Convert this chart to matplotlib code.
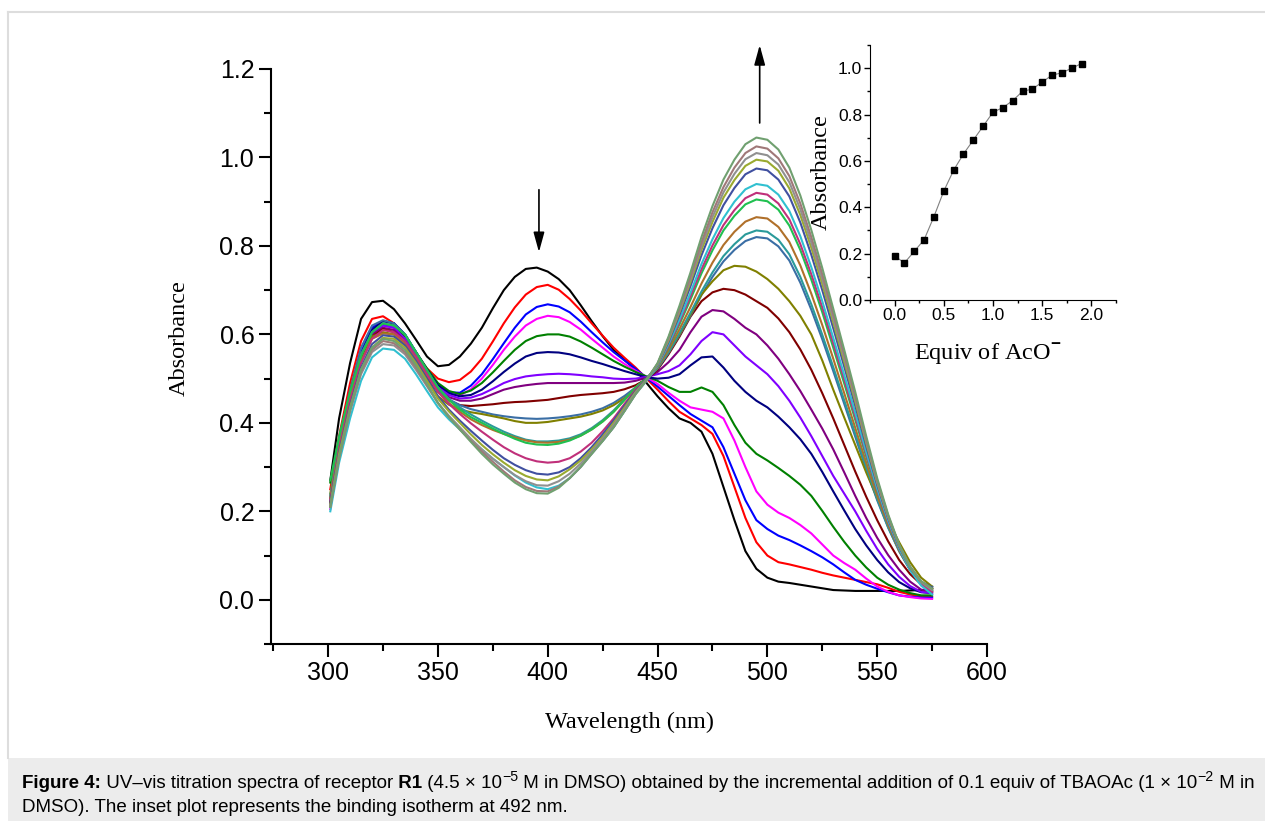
import matplotlib
matplotlib.use('Agg')
import matplotlib.pyplot as plt
from matplotlib.ticker import MultipleLocator
from matplotlib.patches import Rectangle
from matplotlib.lines import Line2D
from matplotlib.text import Annotation

plt.rcParams['font.family'] = 'Liberation Sans'
plt.rcParams['mathtext.fontset'] = 'custom'
plt.rcParams['mathtext.rm'] = 'Liberation Sans'
plt.rcParams['mathtext.bf'] = 'Liberation Sans:bold'

# wavelength grid (nm) and spectra, 0 -> 2.0 equiv AcO-
wavelength = [301, 305, 310, 315, 320, 325, 330, 335, 340, 345, 350, 355, 360, 365,
              370, 375, 380, 385, 390, 395, 400, 405, 410, 415, 420, 425, 430, 435,
              440, 445, 450, 455, 460, 465, 470, 475, 480, 485, 490, 495, 500, 505,
              510, 515, 520, 525, 530, 535, 540, 545, 550, 555, 560, 565, 570, 575]

abs_00 = [0.27, 0.41, 0.535, 0.635, 0.673, 0.676, 0.657, 0.625, 0.588, 0.55, 0.528, 0.531, 0.55, 0.579,
          0.615, 0.659, 0.70, 0.73, 0.748, 0.751, 0.742, 0.725, 0.70, 0.666, 0.63, 0.596, 0.565, 0.542,
          0.52, 0.49, 0.46, 0.433, 0.41, 0.40, 0.38, 0.33, 0.255, 0.18, 0.11, 0.07, 0.05, 0.041,
          0.038, 0.034, 0.03, 0.026, 0.022, 0.021, 0.02, 0.02, 0.02, 0.02, 0.02, 0.021, 0.022, 0.022]
abs_01 = [0.25, 0.37, 0.49, 0.585, 0.635, 0.641, 0.625, 0.595, 0.555, 0.523, 0.50, 0.492, 0.497, 0.516,
          0.545, 0.584, 0.625, 0.661, 0.69, 0.707, 0.712, 0.701, 0.68, 0.654, 0.625, 0.597, 0.57, 0.547,
          0.525, 0.50, 0.475, 0.449, 0.425, 0.41, 0.395, 0.375, 0.325, 0.255, 0.185, 0.13, 0.10, 0.085,
          0.08, 0.074, 0.068, 0.061, 0.055, 0.05, 0.045, 0.04, 0.035, 0.027, 0.018, 0.012, 0.008, 0.006]
abs_02 = [0.22, 0.34, 0.46, 0.56, 0.615, 0.63, 0.625, 0.60, 0.56, 0.52, 0.485, 0.469, 0.468, 0.484,
          0.51, 0.544, 0.58, 0.615, 0.645, 0.662, 0.668, 0.663, 0.65, 0.629, 0.605, 0.582, 0.56, 0.541,
          0.522, 0.502, 0.482, 0.461, 0.44, 0.42, 0.405, 0.39, 0.345, 0.285, 0.225, 0.18, 0.16, 0.145,
          0.135, 0.123, 0.11, 0.096, 0.08, 0.062, 0.045, 0.034, 0.025, 0.017, 0.01, 0.007, 0.005, 0.005]
abs_03 = [0.205, 0.33, 0.45, 0.55, 0.605, 0.62, 0.615, 0.59, 0.55, 0.512, 0.48, 0.464, 0.462, 0.476,
          0.50, 0.531, 0.565, 0.595, 0.62, 0.635, 0.642, 0.639, 0.628, 0.611, 0.59, 0.57, 0.55, 0.533,
          0.518, 0.503, 0.488, 0.468, 0.45, 0.435, 0.43, 0.425, 0.41, 0.36, 0.30, 0.245, 0.215, 0.197,
          0.185, 0.169, 0.15, 0.125, 0.10, 0.083, 0.068, 0.048, 0.03, 0.018, 0.01, 0.006, 0.003, 0.002]
abs_04 = [0.265, 0.36, 0.47, 0.555, 0.605, 0.622, 0.62, 0.595, 0.56, 0.523, 0.49, 0.472, 0.465, 0.473,
          0.49, 0.514, 0.54, 0.565, 0.585, 0.596, 0.60, 0.60, 0.595, 0.584, 0.57, 0.555, 0.54, 0.527,
          0.515, 0.505, 0.495, 0.481, 0.47, 0.47, 0.48, 0.47, 0.44, 0.395, 0.355, 0.33, 0.315, 0.298,
          0.28, 0.26, 0.235, 0.201, 0.165, 0.131, 0.10, 0.073, 0.05, 0.034, 0.023, 0.015, 0.01, 0.01]
abs_05 = [0.23, 0.35, 0.465, 0.555, 0.61, 0.63, 0.625, 0.60, 0.56, 0.52, 0.485, 0.467, 0.46, 0.463,
          0.475, 0.494, 0.515, 0.534, 0.55, 0.558, 0.56, 0.559, 0.555, 0.548, 0.54, 0.533, 0.525, 0.517,
          0.51, 0.503, 0.50, 0.502, 0.51, 0.53, 0.548, 0.55, 0.525, 0.495, 0.47, 0.45, 0.435, 0.414,
          0.39, 0.363, 0.33, 0.289, 0.245, 0.202, 0.16, 0.123, 0.09, 0.062, 0.04, 0.026, 0.017, 0.015]
abs_06 = [0.21, 0.33, 0.45, 0.545, 0.60, 0.62, 0.615, 0.59, 0.55, 0.513, 0.48, 0.463, 0.455, 0.457,
          0.465, 0.477, 0.49, 0.499, 0.505, 0.508, 0.51, 0.511, 0.51, 0.508, 0.505, 0.503, 0.50, 0.499,
          0.50, 0.504, 0.51, 0.517, 0.53, 0.555, 0.585, 0.605, 0.60, 0.575, 0.55, 0.53, 0.51, 0.483,
          0.45, 0.412, 0.37, 0.325, 0.28, 0.24, 0.20, 0.156, 0.115, 0.08, 0.052, 0.031, 0.018, 0.015]
abs_07 = [0.22, 0.34, 0.455, 0.545, 0.60, 0.615, 0.61, 0.585, 0.545, 0.508, 0.475, 0.458, 0.45, 0.45,
          0.455, 0.465, 0.475, 0.481, 0.485, 0.488, 0.49, 0.49, 0.49, 0.49, 0.49, 0.49, 0.49, 0.491,
          0.495, 0.502, 0.515, 0.537, 0.565, 0.605, 0.64, 0.655, 0.652, 0.635, 0.615, 0.60, 0.575, 0.545,
          0.51, 0.472, 0.43, 0.387, 0.34, 0.288, 0.235, 0.185, 0.14, 0.101, 0.068, 0.041, 0.023, 0.018]
abs_08 = [0.22, 0.34, 0.455, 0.545, 0.595, 0.612, 0.605, 0.58, 0.54, 0.503, 0.47, 0.451, 0.44, 0.438,
          0.44, 0.442, 0.445, 0.447, 0.448, 0.45, 0.452, 0.456, 0.46, 0.463, 0.465, 0.467, 0.47, 0.476,
          0.485, 0.499, 0.52, 0.555, 0.595, 0.64, 0.675, 0.695, 0.703, 0.70, 0.69, 0.675, 0.66, 0.636,
          0.605, 0.566, 0.52, 0.467, 0.41, 0.35, 0.29, 0.233, 0.18, 0.132, 0.09, 0.058, 0.035, 0.025]
abs_09 = [0.23, 0.36, 0.475, 0.57, 0.62, 0.632, 0.625, 0.60, 0.555, 0.513, 0.475, 0.453, 0.44, 0.431,
          0.425, 0.419, 0.415, 0.412, 0.41, 0.409, 0.41, 0.412, 0.415, 0.419, 0.425, 0.433, 0.445, 0.461,
          0.48, 0.499, 0.523, 0.558, 0.598, 0.642, 0.689, 0.73, 0.765, 0.791, 0.811, 0.82, 0.817, 0.799,
          0.767, 0.717, 0.656, 0.589, 0.517, 0.443, 0.369, 0.295, 0.225, 0.163, 0.11, 0.068, 0.04, 0.03]
abs_10 = [0.24, 0.36, 0.47, 0.555, 0.595, 0.605, 0.60, 0.575, 0.535, 0.495, 0.46, 0.441, 0.43, 0.424,
          0.42, 0.415, 0.41, 0.404, 0.40, 0.40, 0.402, 0.406, 0.41, 0.414, 0.42, 0.428, 0.44, 0.456,
          0.475, 0.498, 0.525, 0.56, 0.60, 0.645, 0.69, 0.72, 0.745, 0.755, 0.753, 0.742, 0.725, 0.703,
          0.675, 0.642, 0.60, 0.541, 0.475, 0.412, 0.35, 0.288, 0.23, 0.178, 0.13, 0.085, 0.05, 0.03]
abs_11 = [0.235, 0.355, 0.465, 0.555, 0.605, 0.625, 0.62, 0.60, 0.56, 0.519, 0.48, 0.454, 0.435, 0.419,
          0.405, 0.392, 0.38, 0.37, 0.362, 0.358, 0.358, 0.36, 0.365, 0.374, 0.388, 0.406, 0.428, 0.454,
          0.48, 0.50, 0.523, 0.56, 0.603, 0.649, 0.697, 0.74, 0.777, 0.804, 0.826, 0.835, 0.832, 0.814,
          0.781, 0.73, 0.668, 0.599, 0.526, 0.451, 0.376, 0.30, 0.228, 0.164, 0.11, 0.067, 0.038, 0.028]
abs_12 = [0.23, 0.345, 0.455, 0.54, 0.59, 0.602, 0.60, 0.58, 0.545, 0.507, 0.47, 0.445, 0.425, 0.408,
          0.395, 0.384, 0.375, 0.367, 0.36, 0.356, 0.355, 0.357, 0.362, 0.371, 0.385, 0.403, 0.425, 0.452,
          0.48, 0.50, 0.525, 0.565, 0.612, 0.662, 0.715, 0.762, 0.802, 0.832, 0.855, 0.865, 0.862, 0.843,
          0.809, 0.756, 0.692, 0.621, 0.545, 0.467, 0.389, 0.31, 0.235, 0.169, 0.112, 0.068, 0.038, 0.025]
abs_13 = [0.27, 0.37, 0.47, 0.55, 0.605, 0.625, 0.62, 0.60, 0.56, 0.519, 0.48, 0.452, 0.43, 0.413,
          0.40, 0.387, 0.375, 0.364, 0.355, 0.351, 0.35, 0.353, 0.36, 0.371, 0.385, 0.403, 0.425, 0.452,
          0.48, 0.501, 0.527, 0.571, 0.623, 0.679, 0.738, 0.79, 0.835, 0.868, 0.894, 0.905, 0.901, 0.882,
          0.846, 0.791, 0.724, 0.65, 0.57, 0.489, 0.407, 0.324, 0.245, 0.175, 0.115, 0.07, 0.038, 0.02]
abs_14 = [0.225, 0.34, 0.45, 0.535, 0.59, 0.61, 0.605, 0.585, 0.55, 0.51, 0.47, 0.443, 0.42, 0.399,
          0.38, 0.362, 0.345, 0.331, 0.32, 0.313, 0.31, 0.312, 0.32, 0.335, 0.355, 0.381, 0.41, 0.443,
          0.475, 0.499, 0.528, 0.574, 0.628, 0.686, 0.747, 0.801, 0.847, 0.881, 0.908, 0.92, 0.916, 0.896,
          0.86, 0.804, 0.736, 0.661, 0.58, 0.498, 0.414, 0.329, 0.248, 0.176, 0.115, 0.068, 0.035, 0.018]
abs_15 = [0.20, 0.31, 0.41, 0.495, 0.548, 0.568, 0.565, 0.545, 0.51, 0.472, 0.435, 0.408, 0.385, 0.362,
          0.34, 0.319, 0.30, 0.281, 0.265, 0.254, 0.25, 0.258, 0.275, 0.30, 0.33, 0.359, 0.39, 0.427,
          0.465, 0.495, 0.529, 0.578, 0.634, 0.694, 0.759, 0.815, 0.863, 0.90, 0.928, 0.94, 0.936, 0.916,
          0.879, 0.822, 0.752, 0.675, 0.592, 0.508, 0.423, 0.335, 0.252, 0.179, 0.116, 0.067, 0.032, 0.012]
abs_16 = [0.22, 0.335, 0.44, 0.525, 0.578, 0.598, 0.595, 0.575, 0.54, 0.50, 0.46, 0.43, 0.405, 0.382,
          0.36, 0.339, 0.32, 0.305, 0.293, 0.285, 0.283, 0.288, 0.30, 0.32, 0.345, 0.374, 0.405, 0.439,
          0.472, 0.499, 0.531, 0.583, 0.644, 0.709, 0.779, 0.84, 0.892, 0.931, 0.962, 0.975, 0.971, 0.95,
          0.912, 0.853, 0.78, 0.70, 0.614, 0.527, 0.439, 0.347, 0.26, 0.184, 0.12, 0.072, 0.04, 0.028]
abs_17 = [0.215, 0.33, 0.435, 0.52, 0.57, 0.592, 0.59, 0.57, 0.535, 0.495, 0.455, 0.426, 0.40, 0.374,
          0.35, 0.329, 0.31, 0.293, 0.28, 0.272, 0.27, 0.279, 0.295, 0.315, 0.34, 0.368, 0.40, 0.435,
          0.47, 0.498, 0.532, 0.586, 0.65, 0.718, 0.791, 0.854, 0.909, 0.949, 0.981, 0.995, 0.991, 0.97,
          0.93, 0.87, 0.796, 0.714, 0.627, 0.538, 0.448, 0.354, 0.264, 0.187, 0.122, 0.073, 0.04, 0.025]
abs_18 = [0.21, 0.32, 0.425, 0.51, 0.56, 0.578, 0.575, 0.555, 0.52, 0.483, 0.445, 0.416, 0.39, 0.364,
          0.34, 0.319, 0.30, 0.282, 0.268, 0.259, 0.258, 0.268, 0.285, 0.308, 0.335, 0.364, 0.395, 0.431,
          0.468, 0.498, 0.533, 0.589, 0.654, 0.725, 0.799, 0.865, 0.921, 0.963, 0.996, 1.01, 1.005, 0.984,
          0.944, 0.883, 0.808, 0.725, 0.636, 0.547, 0.455, 0.359, 0.267, 0.188, 0.123, 0.074, 0.04, 0.022]
abs_19 = [0.21, 0.32, 0.43, 0.515, 0.565, 0.585, 0.58, 0.56, 0.525, 0.485, 0.445, 0.413, 0.385, 0.359,
          0.335, 0.312, 0.29, 0.27, 0.255, 0.246, 0.245, 0.256, 0.275, 0.30, 0.33, 0.359, 0.39, 0.427,
          0.465, 0.496, 0.534, 0.592, 0.659, 0.731, 0.808, 0.876, 0.933, 0.977, 1.01, 1.025, 1.02, 0.998,
          0.958, 0.896, 0.82, 0.736, 0.646, 0.555, 0.461, 0.363, 0.27, 0.19, 0.124, 0.075, 0.042, 0.025]
abs_20 = [0.21, 0.32, 0.43, 0.52, 0.57, 0.59, 0.585, 0.565, 0.53, 0.488, 0.445, 0.413, 0.385, 0.357,
          0.33, 0.306, 0.285, 0.265, 0.25, 0.241, 0.24, 0.253, 0.275, 0.301, 0.33, 0.359, 0.39, 0.427,
          0.465, 0.497, 0.535, 0.595, 0.665, 0.74, 0.82, 0.89, 0.95, 0.995, 1.03, 1.045, 1.04, 1.018,
          0.977, 0.914, 0.836, 0.75, 0.658, 0.565, 0.47, 0.37, 0.275, 0.193, 0.125, 0.075, 0.042, 0.025]

spectra = [abs_00, abs_01, abs_02, abs_03, abs_04, abs_05, abs_06, abs_07, abs_08, abs_09, abs_10,
           abs_11, abs_12, abs_13, abs_14, abs_15, abs_16, abs_17, abs_18, abs_19, abs_20]
colors = ['#000000', '#ff0000', '#0000ff', '#ff00ff', '#008000', '#000080', '#8000ff',
          '#800080', '#800000', '#3a6ea5', '#808000', '#2a9a9a', '#b0702a', '#20c050',
          '#c0307a', '#30c0d0', '#4050a0', '#9aaa30', '#909090', '#a07878', '#70a070']

# inset: binding isotherm at 492 nm
equiv = [0.0, 0.1, 0.2, 0.3, 0.4, 0.5, 0.6, 0.7, 0.8, 0.9,
         1.0, 1.1, 1.2, 1.3, 1.4, 1.5, 1.6, 1.7, 1.8, 1.9]
abs_492 = [0.19, 0.16, 0.21, 0.26, 0.36, 0.47, 0.56, 0.63, 0.69, 0.75,
           0.81, 0.83, 0.86, 0.90, 0.91, 0.94, 0.97, 0.98, 1.00, 1.02]

# caption runs: (text, style)  b = bold, n = normal, s = superscript
caption_1 = [('Figure 4:', 'b'), (' UV–vis titration spectra of receptor', 'n'), (' R1', 'b'),
             (' (4.5 × 10', 'n'), ('−5', 's'),
             (' M in DMSO) obtained by the incremental addition of 0.1 equiv of TBAOAc (1 × 10', 'n'),
             ('−2', 's'), (' M in', 'n')]
caption_2 = [('DMSO). The inset plot represents the binding isotherm at 492 nm.', 'n')]

W, H = 1265, 821
fig = plt.figure(figsize=(W / 100, H / 100), dpi=100)


def caption_line(runs, y_px, size=13.5):
    first = fig.text(22 / W, 1 - y_px / H, runs[0][0], fontsize=size, va='bottom',
                     fontweight='bold' if runs[0][1] == 'b' else 'normal')
    prev = first
    for s, style in runs[1:]:
        if style == 's':
            t = Annotation(s, xy=(1, 0.45), xycoords=(prev, first), va='bottom',
                           fontsize=size * 0.75)
        else:
            t = Annotation(s, xy=(1, 0), xycoords=(prev, first), va='bottom', fontsize=size,
                           fontweight='bold' if style == 'b' else 'normal')
        fig.add_artist(t)
        prev = t


# page frame and caption box
fig.add_artist(Rectangle((8 / W, 0), 1, 63 / H, transform=fig.transFigure,
                         facecolor='#ececec', edgecolor='none'))
fig.add_artist(Line2D([8 / W, 8 / W], [63 / H, 1 - 12 / H], transform=fig.transFigure,
                      color='#dddddd', lw=1.5))
fig.add_artist(Line2D([8 / W, 1], [1 - 12 / H, 1 - 12 / H], transform=fig.transFigure,
                      color='#dddddd', lw=1.5))
caption_line(caption_1, 792)
caption_line(caption_2, 816)

# main spectra
ax = fig.add_axes([271 / W, 1 - 644 / H, 716 / W, 575 / H])
for spec, col in zip(spectra, colors):
    ax.plot(wavelength, spec, color=col, lw=1.5)

ax.set_xlim(274, 600)
ax.set_ylim(-0.1, 1.2)
ax.spines['top'].set_visible(False)
ax.spines['right'].set_visible(False)
for s in ['left', 'bottom']:
    ax.spines[s].set_linewidth(1.5)
ax.xaxis.set_major_locator(MultipleLocator(50))
ax.xaxis.set_minor_locator(MultipleLocator(25))
ax.yaxis.set_major_locator(MultipleLocator(0.2))
ax.yaxis.set_minor_locator(MultipleLocator(0.1))
ax.tick_params(which='major', direction='out', length=9, width=1.5, labelsize=18, pad=3)
ax.tick_params(which='minor', direction='out', length=5, width=1.5)
ax.set_xlabel('Wavelength (nm)', fontfamily='Liberation Serif', fontsize=17.5)
ax.xaxis.set_label_coords(0.501, -0.118)
ax.set_ylabel('Absorbance', fontfamily='Liberation Serif', fontsize=17.5)
ax.yaxis.set_label_coords(-0.113, 0.532)

arrow = dict(arrowstyle='-|>,head_length=0.8,head_width=0.22', color='black', lw=1.2,
             shrinkA=0, shrinkB=0, mutation_scale=15)
ax.annotate('', xy=(396, 0.786), xytext=(396, 0.927), arrowprops=arrow)
ax.annotate('', xy=(496.5, 1.254), xytext=(496.5, 1.078), arrowprops=arrow,
            annotation_clip=False)

# inset
ax2 = fig.add_axes([870 / W, 1 - 300 / H, 246 / W, 255 / H])
ax2.plot(equiv, abs_492, color='#808080', lw=0.8, marker='s', ms=4,
         mfc='black', mec='black')
ax2.set_xlim(-0.25, 2.25)
ax2.set_ylim(0, 1.1)
ax2.spines['top'].set_visible(False)
ax2.spines['right'].set_visible(False)
ax2.xaxis.set_major_locator(MultipleLocator(0.5))
ax2.xaxis.set_minor_locator(MultipleLocator(0.25))
ax2.yaxis.set_major_locator(MultipleLocator(0.2))
ax2.yaxis.set_minor_locator(MultipleLocator(0.1))
ax2.tick_params(which='major', direction='out', length=4, width=1, labelsize=12.5, pad=1.5)
ax2.tick_params(which='minor', direction='out', length=2.5, width=1)
ax2.set_ylabel('Absorbance', fontfamily='Liberation Serif', fontsize=17.5)
ax2.yaxis.set_label_coords(-0.154, 0.5)
ax2.set_xlabel(r'Equiv of AcO$^{\mathbf{-}}$', fontfamily='Liberation Serif', fontsize=17.5)
ax2.xaxis.set_label_coords(0.48, -0.165)

fig.savefig('out.png', dpi=100)
